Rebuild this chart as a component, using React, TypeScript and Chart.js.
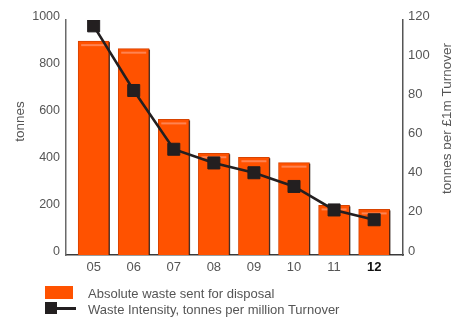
import React, { useEffect, useRef } from 'react';
import { Chart, registerables } from 'chart.js';

Chart.register(...registerables);

// Financial years shown on the category axis
const years = ['05', '06', '07', '08', '09', '10', '11', '12'];
// Absolute waste sent for disposal (tonnes)
const wasteTonnes = [910, 878, 577, 433, 416, 393, 211, 194];
// Waste intensity (tonnes per £1m turnover)
const intensity = [117, 84, 54, 47, 42, 35, 23, 18];
// Axis tick values
const tonneTicks = [0, 200, 400, 600, 800, 1000];
const intensityTicks = [0, 20, 40, 60, 80, 100, 120];

const FONT = '"Liberation Sans", Arial, Helvetica, sans-serif';
const ORANGE = '#FF5200';
const INK = '#231F20';
const TEXT = '#555555';

// Rotated axis titles (both read bottom-to-top)
const axisTitles = {
  id: 'axisTitles',
  afterDraw(chart: any) {
    const ctx = chart.ctx as CanvasRenderingContext2D;
    const drawVertical = (text: string, x: number, y: number) => {
      ctx.save();
      ctx.translate(x, y);
      ctx.rotate(-Math.PI / 2);
      ctx.fillText(text, 0, 0);
      ctx.restore();
    };
    ctx.save();
    ctx.fillStyle = TEXT;
    ctx.font = `13.5px ${FONT}`;
    ctx.textAlign = 'center';
    ctx.textBaseline = 'alphabetic';
    drawVertical('tonnes', 24, 121.5);
    drawVertical('tonnes per £1m Turnover', 450.5, 118.5);
    ctx.restore();
  },
};

// Glossy highlight and edge shadow on each bar
const barGloss = {
  id: 'barGloss',
  afterDatasetDraw(chart: any, args: any) {
    if (args.meta.type !== 'bar') return;
    const ctx = chart.ctx as CanvasRenderingContext2D;
    ctx.save();
    args.meta.data.forEach((bar: any) => {
      const { x, y, width, base } = bar.getProps(['x', 'y', 'width', 'base'], true);
      const l = x - width / 2;
      const r = x + width / 2;
      ctx.fillStyle = 'rgba(45,28,20,0.85)';
      ctx.fillRect(r - 0.5, y + 1, 1.3, base - y - 1);
      ctx.fillStyle = 'rgba(255,140,95,0.85)';
      ctx.fillRect(l + 3, y + 3, width - 6, 2);
    });
    ctx.restore();
  },
};

export default function App() {
  const canvasRef = useRef<HTMLCanvasElement | null>(null);

  useEffect(() => {
    if (!canvasRef.current) return;
    const chart = new Chart(canvasRef.current, {
      type: 'bar',
      data: {
        datasets: [
          {
            type: 'line',
            label: 'Waste Intensity, tonnes per million Turnover',
            data: intensity.map((v, i) => ({ x: i, y: v })),
            yAxisID: 'y1',
            borderColor: INK,
            borderWidth: 2.6,
            pointStyle: 'rect',
            pointRadius: 8.5,
            pointBackgroundColor: INK,
            pointBorderColor: INK,
            pointBorderWidth: 1,
            order: 0,
          },
          {
            type: 'bar',
            label: 'Absolute waste sent for disposal',
            data: wasteTonnes.map((v, i) => ({ x: i, y: v })),
            yAxisID: 'y',
            backgroundColor: ORANGE,
            borderColor: '#D84300',
            borderWidth: 1,
            barThickness: 31,
            order: 1,
          },
        ] as any,
      },
      options: {
        animation: false,
        responsive: false,
        events: [],
        layout: { padding: { top: 20, bottom: 0, left: 0, right: 0 } },
        plugins: {
          legend: { display: false },
          tooltip: { enabled: false },
        },
        scales: {
          x: {
            type: 'linear',
            offset: false,
            min: -0.69,
            max: 7.72,
            afterBuildTicks: (s: any) => {
              s.ticks = years.map((_, i) => ({ value: i }));
            },
            afterFit: (s: any) => {
              s.height = 65;
            },
            grid: { display: false, drawTicks: false },
            border: { display: true, color: '#3a3a3a', width: 1.5 },
            ticks: {
              padding: 5,
              autoSkip: false,
              maxRotation: 0,
              color: (c: any) => (c.index === years.length - 1 ? '#111111' : TEXT),
              font: (c: any) => ({
                family: FONT,
                size: 13,
                weight: c.index === years.length - 1 ? 'bold' : 'normal',
              }),
              callback: (v: any) => years[v] ?? '',
            },
          },
          y: {
            position: 'left',
            min: 0,
            max: 1000,
            afterBuildTicks: (s: any) => {
              s.ticks = tonneTicks.map((v) => ({ value: v }));
            },
            afterFit: (s: any) => {
              s.width = 66;
            },
            grid: { display: false, drawTicks: false },
            border: { display: true, color: '#6a6a6a', width: 1.5 },
            ticks: {
              padding: 6,
              labelOffset: -3,
              color: TEXT,
              font: { family: FONT, size: 12.5 },
              callback: (v: any) => String(v),
            },
          },
          y1: {
            position: 'right',
            min: 0,
            max: 120,
            afterBuildTicks: (s: any) => {
              s.ticks = intensityTicks.map((v) => ({ value: v }));
            },
            afterFit: (s: any) => {
              s.width = 48;
            },
            grid: { display: false, drawTicks: false },
            border: { display: true, color: '#555555', width: 1.5 },
            ticks: {
              padding: 5,
              labelOffset: -4,
              color: TEXT,
              font: { family: FONT, size: 13 },
              callback: (v: any) => String(v),
            },
          },
        },
      } as any,
      plugins: [axisTitles, barGloss],
    });
    return () => chart.destroy();
  }, []);

  const legendText: React.CSSProperties = {
    position: 'absolute',
    left: 88,
    fontFamily: FONT,
    fontSize: 13,
    color: TEXT,
    lineHeight: '16px',
    whiteSpace: 'nowrap',
  };

  return (
    <div style={{ position: 'absolute', left: 0, top: 0, width: 451, height: 320, background: '#fff' }}>
      <canvas ref={canvasRef} width={451} height={320} style={{ display: 'block' }} />
      <div style={{ position: 'absolute', left: 45, top: 286, width: 28, height: 13, background: ORANGE }} />
      <div style={{ ...legendText, top: 286 }}>Absolute waste sent for disposal</div>
      <div style={{ position: 'absolute', left: 45, top: 302, width: 12, height: 12, background: INK }} />
      <div style={{ position: 'absolute', left: 56, top: 307, width: 20, height: 2.6, background: INK }} />
      <div style={{ ...legendText, top: 302 }}>Waste Intensity, tonnes per million Turnover</div>
    </div>
  );
}
